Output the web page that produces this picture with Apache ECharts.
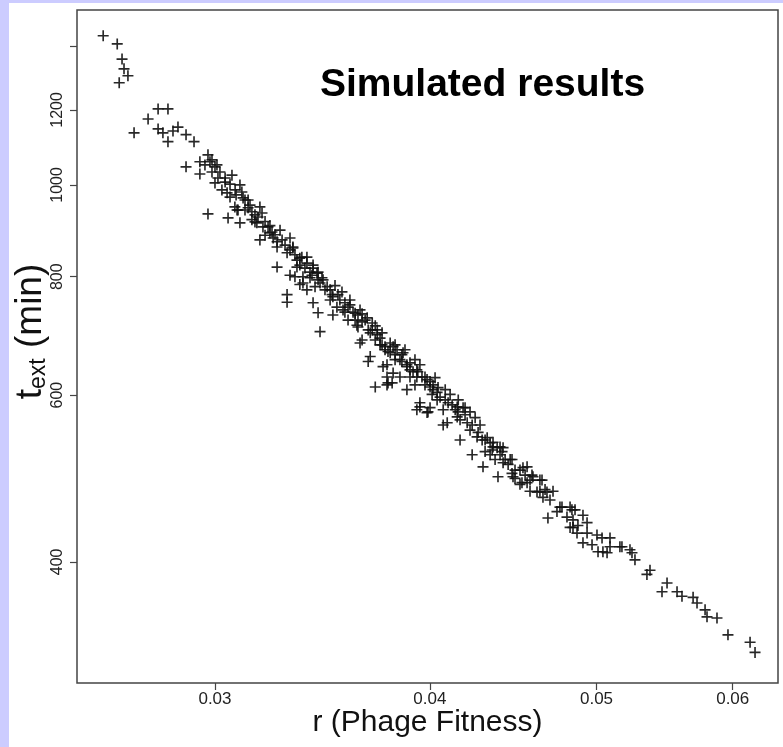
<!DOCTYPE html>
<html>
<head>
<meta charset="utf-8">
<title>Simulated results</title>
<script src="https://cdn.jsdelivr.net/npm/echarts@6.0.0/dist/echarts.min.js"></script>
<style>
  html, body { margin: 0; padding: 0; width: 783px; height: 747px; background: #ccccff; overflow: hidden; }
  #chart { position: absolute; left: 9px; top: 3px; width: 774px; height: 744px; background: #fff; }
</style>
</head>
<body>
<div id="chart"></div>
<script>
// r (phage fitness) and t_ext (min)
const rFitness = [
  0.02583, 0.02632, 0.02649, 0.02656, 0.02670, 0.02639, 0.02780, 0.02817, 0.02743, 0.02692, 0.02780, 0.02798, 0.02817, 0.02836, 0.02855, 0.02886, 0.02917,
  0.02972, 0.02980, 0.02940, 0.02886, 0.02940, 0.03000, 0.03020, 0.03069, 0.03000, 0.03028, 0.03102, 0.03049, 0.02972, 0.03053, 0.03090, 0.03136, 0.03102, 0.03165, 0.03186, 0.03199, 0.03229, 0.03273, 0.03260, 0.03304, 0.03348, 0.03393, 0.03421, 0.03260,
  0.02988, 0.03008, 0.03061, 0.03110, 0.03081, 0.03094, 0.03195, 0.03152, 0.03173, 0.03221, 0.03238, 0.03186, 0.03243, 0.03260, 0.03317, 0.03330, 0.03370, 0.03348, 0.03421, 0.03375, 0.03439, 0.03317, 0.03467, 0.03361, 0.03486, 0.03304, 0.03393, 0.03421, 0.03304, 0.03532, 0.03444, 0.03513, 0.03513,
  0.03330, 0.03393, 0.03407, 0.03339, 0.03375, 0.03444, 0.03462, 0.03430, 0.03453, 0.03509, 0.03556, 0.03561, 0.03585, 0.03609, 0.03633, 0.03585, 0.03628, 0.03678, 0.03703, 0.03653, 0.03693, 0.03728, 0.03742, 0.03693, 0.03767, 0.03793, 0.03828, 0.03853, 0.03757, 0.03777, 0.03718, 0.03782, 0.03879, 0.03911, 0.03958, 0.03985, 0.03895, 0.03843, 0.04001, 0.04039, 0.03947, 0.03990, 0.04039,
  0.03453, 0.03619, 0.03643, 0.03633, 0.03703, 0.03728, 0.03643, 0.03683, 0.03742, 0.03767, 0.03793, 0.03777, 0.03843, 0.03879, 0.03777, 0.03879, 0.03931, 0.03974, 0.04001, 0.04017, 0.04055, 0.03947, 0.03985, 0.04072, 0.04149, 0.04182, 0.04094, 0.04165, 0.04205, 0.04165, 0.04233, 0.04261, 0.04319, 0.04353, 0.04412, 0.04295, 0.04382, 0.04454, 0.04513, 0.04556, 0.04574, 0.04635, 0.04667, 0.04685, 0.04761, 0.04838, 0.04910, 0.04845,
  0.03808, 0.03859, 0.03895, 0.03808, 0.03803, 0.03931, 0.04017, 0.03931, 0.04001, 0.04099, 0.04155, 0.04193, 0.04149, 0.04072, 0.04221, 0.04290, 0.04336, 0.04307, 0.04377, 0.04406, 0.04424, 0.04465, 0.04531, 0.04592, 0.04556, 0.04574, 0.04617, 0.04483,
  0.04353, 0.04394, 0.04365, 0.04412, 0.04465, 0.04471, 0.04525, 0.04586, 0.04648, 0.04635, 0.04679, 0.04717, 0.04654, 0.04742, 0.04774, 0.04826, 0.04858, 0.04806, 0.04845, 0.04826, 0.04877, 0.04871, 0.04937, 0.04937, 0.05003, 0.04910, 0.04970, 0.05010, 0.05091, 0.05091, 0.05173, 0.05229, 0.05264, 0.05071,
  0.05037, 0.05043, 0.05159, 0.05243, 0.05371, 0.05349, 0.05495, 0.05458, 0.05569, 0.05606, 0.05690, 0.05720, 0.05782, 0.05797, 0.05875, 0.05962, 0.06141, 0.06182,
  0.03546, 0.03570, 0.03594, 0.03653, 0.03668, 0.03718, 0.03752, 0.03818, 0.03869, 0.03921, 0.03947, 0.04028, 0.04083, 0.04110, 0.04221, 0.04250, 0.04278, 0.03144, 0.03123, 0.03165, 0.03208, 0.03295, 0.03361, 0.03407, 0.03041, 0.03082, 0.03123, 0.03500, 0.03523, 0.03818, 0.03921, 0.04138, 0.04336, 0.04513, 0.04698,
  0.02960, 0.02988, 0.03012, 0.03041, 0.03061, 0.03086, 0.03115, 0.03136, 0.03152, 0.03178, 0.03208, 0.03229, 0.03251, 0.03282, 0.03317, 0.03339, 0.03361, 0.03384, 0.03416, 0.03444, 0.03476, 0.03500, 0.03537, 0.03570, 0.03594,
  0.03619, 0.03653, 0.03683, 0.03718, 0.03752, 0.03782, 0.03818, 0.03853, 0.03895, 0.03936, 0.03974, 0.04012, 0.04044, 0.04083, 0.04121, 0.04154, 0.04193, 0.04233, 0.04267, 0.04307, 0.04348, 0.04394, 0.04442, 0.04483, 0.04544
];
const tExt = [
  1437, 1409, 1358, 1326, 1304, 1282, 1203, 1203, 1174, 1135, 1146, 1135, 1111, 1140, 1151, 1130, 1111,
  1076, 1058, 1058, 1045, 1027, 1045, 1032, 1024, 1005, 988, 1000, 981, 932, 923, 941, 964, 912, 930, 948, 903, 890, 896, 871, 848, 833, 839, 823, 819,
  1063, 1050, 971, 983, 948, 941, 934, 919, 912, 903, 892, 875, 879, 860, 879, 860, 839, 819, 817, 800, 807, 803, 794, 785, 781, 766, 775, 751, 752, 743, 733, 729, 762,
  858, 827, 809, 800, 788, 809, 798, 781, 700, 766, 771, 738, 743, 734, 729, 720, 711, 724, 715, 686, 698, 703, 689, 659, 675, 681, 670, 662, 643, 627, 612, 618, 646, 635, 627, 623, 627, 627, 612, 604, 589, 576, 593,
  788, 732, 738, 708, 703, 695, 681, 651, 678, 670, 665, 646, 654, 643, 615, 608, 627, 627, 620, 608, 597, 583, 575, 579, 583, 582, 561, 565, 561, 538, 519, 542, 541, 529, 528, 504, 492, 513, 500, 504, 488, 488, 477, 445, 457, 454, 448, 435,
  675, 665, 649, 633, 618, 638, 615, 579, 582, 589, 593, 582, 569, 558, 551, 538, 534, 523, 528, 523, 513, 496, 503, 492, 485, 475, 474, 490,
  535, 529, 513, 509, 513, 492, 485, 494, 488, 475, 474, 475, 468, 452, 457, 457, 454, 446, 443, 435, 437, 429, 440, 429, 427, 419, 417, 410, 424, 415, 415, 412, 402, 409,
  424, 410, 415, 409, 392, 388, 380, 372, 372, 368, 367, 362, 356, 350, 349, 335, 329, 321,
  756, 751, 747, 731, 720, 710, 698, 678, 670, 654, 646, 626, 608, 601, 576, 568, 558, 952, 941, 914, 885, 864, 823, 798, 1007, 988, 964, 775, 783, 654, 615, 579, 519, 483, 465,
  1050, 1032, 1017, 1017, 1002, 976, 969, 946, 937, 925, 915, 906, 886, 875, 854, 844, 837, 817, 803, 794, 775, 756, 766, 734, 756,
  720, 717, 703, 686, 678, 667, 662, 651, 638, 635, 615, 601, 611, 593, 586, 576, 572, 558, 548, 538, 525, 519, 507, 500, 494
];

const xTicks = [0.03, 0.04, 0.05, 0.06];
const yTicks = [400, 600, 800, 1000, 1200, 1400];
const yLabels = [400, 600, 800, 1000, 1200]; // 1400 has a tick but no label

const font = "'Liberation Sans', Arial, sans-serif";
const plus = 'path://M4.25 0H5.75V4.25H10V5.75H5.75V10H4.25V5.75H0V4.25H4.25Z';

const myChart = echarts.init(document.getElementById('chart'));
myChart.setOption({
  animation: false,
  title: {
    text: 'Simulated results',
    left: 306,
    top: 58,
    textStyle: { fontFamily: font, fontSize: 39, fontWeight: 'bold', color: '#000' }
  },
  grid: {
    left: 68, right: 5, top: 7, bottom: 64,
    containLabel: false,
    outerBoundsMode: 'none', // keep the box where it is, names may hang outside
    show: true,
    borderColor: '#444',
    borderWidth: 1.5,
    backgroundColor: '#fff'
  },
  xAxis: {
    type: 'log',
    logBase: 10,
    min: 0.02494,
    max: 0.06375,
    name: 'r (Phage Fitness)',
    nameLocation: 'middle',
    nameMoveOverlap: false,
    nameGap: 25,
    nameTextStyle: { fontFamily: font, fontSize: 30, color: '#111' },
    axisLine: { show: false },
    splitLine: { show: false },
    minorTick: { show: false },
    axisTick: { customValues: xTicks, length: 7, lineStyle: { color: '#444', width: 1.2 } },
    axisLabel: {
      customValues: xTicks,
      margin: 8,
      fontFamily: font, fontSize: 17, color: '#222',
      formatter: v => v.toFixed(2)
    }
  },
  yAxis: {
    type: 'log',
    logBase: 10,
    min: 298,
    max: 1530,
    name: '{b|t}{s|ext}{b| (min)}',
    nameLocation: 'middle',
    nameMoveOverlap: false,
    nameRotate: 90,
    nameGap: 27,
    nameTextStyle: {
      fontFamily: font, color: '#111',
      padding: [0, 0, 0, 30],
      rich: {
        b: { fontFamily: font, fontSize: 37, color: '#111', lineHeight: 38 },
        s: { fontFamily: font, fontSize: 23, color: '#111', lineHeight: 12, verticalAlign: 'bottom' }
      }
    },
    axisLine: { show: false },
    splitLine: { show: false },
    minorTick: { show: false },
    axisTick: { customValues: yTicks, length: 7, lineStyle: { color: '#444', width: 1.2 } },
    axisLabel: {
      customValues: yLabels,
      rotate: 90,
      margin: 11,
      fontFamily: font, fontSize: 16, color: '#222',
      formatter: v => String(Math.round(v))
    }
  },
  series: [{
    type: 'scatter',
    symbol: plus,
    symbolSize: 11,
    itemStyle: { color: '#111', opacity: 0.9 },
    emphasis: { disabled: true },
    data: rFitness.map((r, i) => [r, tExt[i]])
  }]
});
</script>
</body>
</html>
